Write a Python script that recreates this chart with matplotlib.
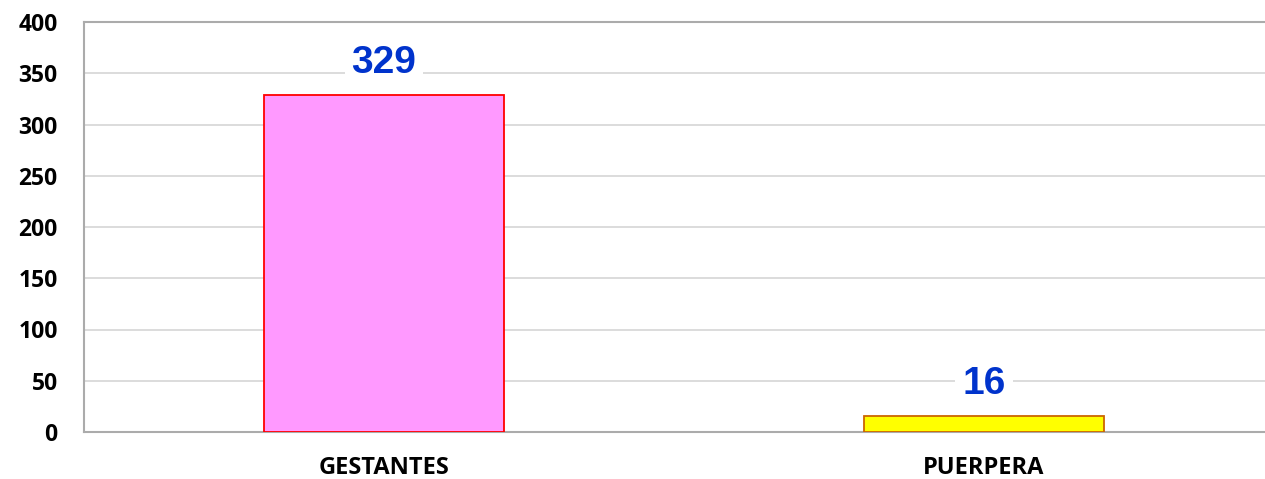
import matplotlib
matplotlib.use("Agg")
import matplotlib.pyplot as plt

categorias = ["GESTANTES", "PUERPERA"]
valores = [329, 16]
colores = ["#FF99FF", "#FFFF00"]
bordes = ["#FF0000", "#CC6600"]
yticks = [0, 50, 100, 150, 200, 250, 300, 350, 400]

fig = plt.figure(figsize=(12.65, 4.79), dpi=100)
ax = fig.add_axes([84 / 1265, 47 / 479, 1181 / 1265, 410 / 479])

x = list(range(len(categorias)))
ax.bar(x, valores, width=0.4, color=colores, edgecolor=bordes, linewidth=1.3, zorder=3)

ax.set_xlim(-0.5, (1265 - 384) / 600)
ax.set_ylim(0, 400)
ax.set_yticks(yticks)
ax.set_xticks(x)
ax.set_xticklabels(categorias)
ax.yaxis.grid(True, color="#D9D9D9", linewidth=1.3, zorder=0)
ax.set_axisbelow(True)

ax.spines["right"].set_visible(False)
for s in ["left", "bottom", "top"]:
    ax.spines[s].set_color("#ABABAB")
    ax.spines[s].set_linewidth(1.5)

ax.tick_params(axis="y", length=0, pad=19)
ax.tick_params(axis="x", length=0, pad=17)
for lab in ax.get_yticklabels():
    lab.set_fontfamily("Open Sans")
    lab.set_fontweight("bold")
    lab.set_fontsize(16.5)
for lab in ax.get_xticklabels():
    lab.set_fontfamily("Open Sans")
    lab.set_fontweight("bold")
    lab.set_fontsize(17)

for xi, v in zip(x, valores):
    ax.text(xi, v + 31, str(v), ha="center", va="center", fontsize=28,
            fontweight="bold", color="#0033CC", family="Liberation Sans",
            bbox=dict(facecolor="white", edgecolor="none", pad=5), zorder=4)

fig.savefig("out.png", dpi=100)
